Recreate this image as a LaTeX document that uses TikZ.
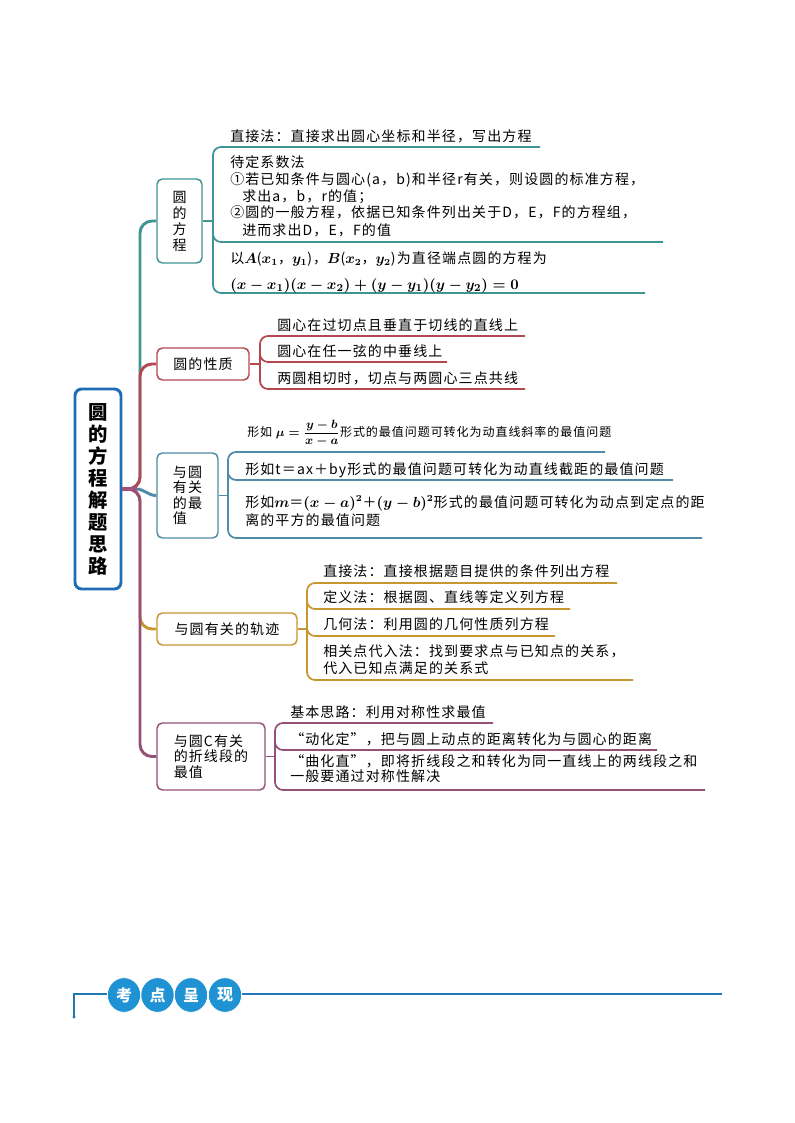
\documentclass[tikz,border=0pt]{standalone}
\usepackage{fontspec}
\usepackage{amsmath}
\setmainfont{Noto Sans CJK SC}[LetterSpace=8]
\newfontfamily\rootfont{Noto Sans CJK SC}
\usetikzlibrary{shapes.geometric}
\definecolor{cteal}{HTML}{3F9494}
\definecolor{cred}{HTML}{B5474F}
\definecolor{cblue}{HTML}{4E8CA8}
\definecolor{cgold}{HTML}{C8962F}
\definecolor{cpurp}{HTML}{955078}
\definecolor{croot}{HTML}{1F6DB5}
\definecolor{cstub}{HTML}{A2507A}
\definecolor{cbanner}{HTML}{1F78B4}
\definecolor{ccirc}{HTML}{1E92D2}
\tikzset{
  txt/.style={anchor=base west, inner sep=0pt, text=black, font=\fontsize{10.5}{12.8}\selectfont\boldmath},
  smtxt/.style={anchor=base west, inner sep=0pt, text=black, font=\fontsize{9}{11}\selectfont\boldmath},
  topic/.style={draw, rounded corners=4pt, line width=1.1pt, inner sep=0pt, text=black,
                align=center, font=\fontsize{10.5}{11.6}\selectfont},
  uline/.style={line width=1.3pt, rounded corners=6pt},
  trunk/.style={line width=2.2pt, rounded corners=9pt},
  circ/.style={ellipse, fill=ccirc, draw=white, line width=0.6pt, inner sep=0pt,
               minimum width=25pt, minimum height=26pt, text=white,
               font=\rootfont\bfseries\fontsize{12}{13}\selectfont}
}
\begin{document}
\begin{tikzpicture}[x=0.75pt,y=-0.75pt]
\useasboundingbox (0,0) rectangle (794,1123);
\fill[white] (0,0) rectangle (794,1123);

% root
\node[draw=croot, line width=2.2pt, rounded corners=5pt, minimum width=34.5pt, minimum height=150pt,
      inner sep=0pt, align=center, font=\rootfont\bfseries\fontsize{14.5}{16.5}\selectfont]
      (root) at (98,489) {圆\\的\\方\\程\\解\\题\\思\\路};

% branch topics
\node[topic, draw=cteal, minimum width=33.75pt, minimum height=63pt, font=\fontsize{10.5}{12}\selectfont]
      (b1) at (179.5,221) {圆\\的\\方\\程};
\node[topic, draw=cred, minimum width=69pt, minimum height=24pt] (b2) at (203,364) {圆的性质};
\node[topic, draw=cblue, minimum width=45.75pt, minimum height=63.75pt, align=left]
      (b3) at (187.5,495.5) {与圆\\有关\\的最\\值};
\node[topic, draw=cgold, minimum width=105pt, minimum height=24pt] (b4) at (227,629) {与圆有关的轨迹};
\node[topic, draw=cpurp, minimum width=81pt, minimum height=50.25pt, align=left]
      (b5) at (211,756.5) {与圆C有关\\的折线段的\\最值};

% trunk
\draw[trunk, cteal] (root.east) -- (140,489) -- (140,221) -- (b1.west);
\draw[trunk, cgold] (root.east) -- (140,489) -- (140,629) -- (b4.west);
\draw[trunk, cred] (root.east) -- (140,489) -- (140,364) -- (b2.west);
\draw[trunk, cpurp] (root.east) -- (140,489) -- (140,756.5) -- (b5.west);
\draw[line width=2.2pt, cblue] (root.east) -- (136,489) to[out=0,in=180] (b3.west);
\draw[line width=3.6pt, cstub] (root.east) -- (137,489);

% ---- branch 1
\draw[uline, cteal] (b1.east) -- (213,221);
\draw[uline, cteal] (540,147) -- (213,147) -- (213,293) -- (645,293);
\draw[uline, cteal] (213,230) -- (213,242) -- (663,242);
\node[txt] (t1a) at (230,142) {直接法：直接求出圆心坐标和半径，写出方程};
\node[txt] (t1b1) at (230,168) {待定系数法};
\node[txt] (t1b2) at (230,185) {①若已知条件与圆心(a，b)和半径r有关，则设圆的标准方程，};
\node[txt] (t1b3) at (242,202) {求出a，b，r的值；};
\node[txt] (t1b4) at (230,218) {②圆的一般方程，依据已知条件列出关于D，E，F的方程组，};
\node[txt] (t1b5) at (242,235) {进而求出D，E，F的值};
\node[txt] (t1c1) at (230,263) {以$A$($x_1$，$y_1$)，$B$($x_2$，$y_2$)为直径端点圆的方程为};
\node[txt, font=\fontsize{11}{13}\selectfont\boldmath] (t1c2) at (230,289)
      {$(x-x_1)(x-x_2)+(y-y_1)(y-y_2)=0$};

% ---- branch 2
\draw[uline, cred] (b2.east) -- (260,364);
\draw[uline, cred] (525,336) -- (260,336) -- (260,389) -- (525,389);
\draw[uline, cred] (260,351) -- (260,362) -- (447,362);
\node[txt] (t2a) at (277,330) {圆心在过切点且垂直于切线的直线上};
\node[txt] (t2b) at (277,356) {圆心在任一弦的中垂线上};
\node[txt] (t2c) at (277,383) {两圆相切时，切点与两圆心三点共线};

% ---- branch 3
\draw[uline, cblue] (b3.east) -- (228,495.5);
\draw[uline, cblue] (605,452) -- (228,452) -- (228,538) -- (702,538);
\draw[uline, cblue] (228,468) -- (228,480) -- (673,480);
\node[smtxt] (t3a) at (247,436) {形如 $\mu=\dfrac{y-b}{x-a}$形式的最值问题可转化为动直线斜率的最值问题};
\node[txt] (t3b) at (245,474) {形如t＝ax＋by形式的最值问题可转化为动直线截距的最值问题};
\node[txt] (t3c1) at (245,507) {形如$m$＝$(x-a)^2$＋$(y-b)^2$形式的最值问题可转化为动点到定点的距};
\node[txt] (t3c2) at (245,525) {离的平方的最值问题};

% ---- branch 4
\draw[uline, cgold] (b4.east) -- (307,629);
\draw[uline, cgold] (617,583) -- (307,583) -- (307,680) -- (633,680);
\draw[uline, cgold] (307,597) -- (307,609) -- (570,609);
\draw[uline, cgold] (307,624) -- (307,636) -- (555,636);
\node[txt] (t4a) at (323,576) {直接法：直接根据题目提供的条件列出方程};
\node[txt] (t4b) at (323,602) {定义法：根据圆、直线等定义列方程};
\node[txt] (t4c) at (323,629) {几何法：利用圆的几何性质列方程};
\node[txt] (t4d1) at (323,656) {相关点代入法：找到要求点与已知点的关系，};
\node[txt] (t4d2) at (323,673) {代入已知点满足的关系式};

% ---- branch 5
\draw[uline, cpurp] (b5.east) -- (275,756.5);
\draw[uline, cpurp] (493,723) -- (275,723) -- (275,790) -- (705,790);
\draw[uline, cpurp] (275,738) -- (275,750) -- (657,750);
\node[txt] (t5a) at (290,717) {基本思路：利用对称性求最值};
\node[txt] (t5b) at (290,744) {“动化定”，把与圆上动点的距离转化为与圆心的距离};
\node[txt] (t5c1) at (290,766) {“曲化直”，即将折线段之和转化为同一直线上的两线段之和};
\node[txt] (t5c2) at (290,781) {一般要通过对称性解决};

% ---- banner
\coordinate (bdot) at (74,1017);
\coordinate (bend) at (722,994);
\draw[cbanner, line width=1pt] (bdot) -- (74,994) -- (bend);
\fill[cbanner] (bdot) circle (1.6);
\node[circ] (k1) at (124,995) {考};
\node[circ] (k2) at (157.5,995) {点};
\node[circ] (k3) at (191,995) {呈};
\node[circ] (k4) at (225,995) {现};
\end{tikzpicture}
\end{document}
